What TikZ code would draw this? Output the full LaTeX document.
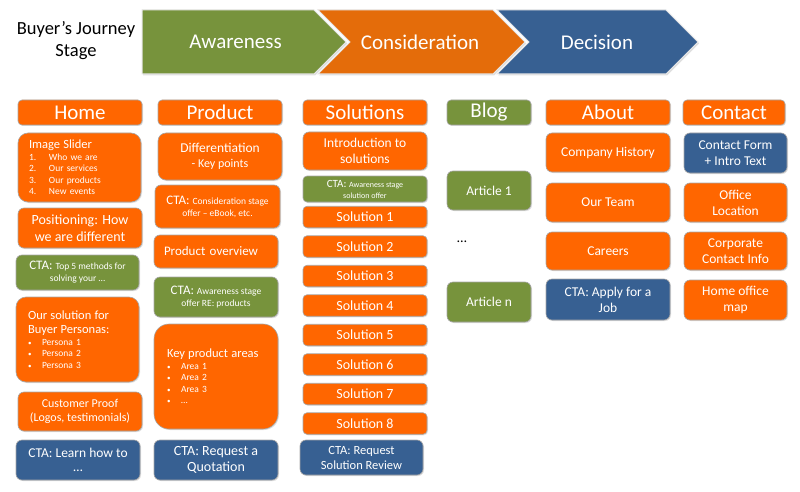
\documentclass[tikz,border=0pt]{standalone}
\usepackage{fontspec}
\setmainfont{Carlito}
\usetikzlibrary{shadows}
\definecolor{pageorange}{RGB}{255,102,0}
\definecolor{ctagreen}{RGB}{119,147,60}
\definecolor{ctablue}{RGB}{55,96,146}
\definecolor{stageorange}{RGB}{228,108,10}
\newcommand{\hdfont}{\fontsize{21}{24}\selectfont}
\newcommand{\bodyfont}{\fontsize{13.5}{16}\selectfont}
\newcommand{\ctafont}{\fontsize{13}{12}\selectfont}
\newcommand{\listhead}{\fontsize{12.5}{14}\selectfont}
\newcommand{\smallfont}{\fontsize{9.5}{11.5}\selectfont}
\newcommand{\numitem}[2]{\makebox[20pt][l]{#1}#2}
\newcommand{\dotitem}[1]{\makebox[14pt][l]{\fontsize{7}{7}\selectfont\textbullet}#1}

\begin{document}
\begin{tikzpicture}[x=1pt, y=-1pt,
    stage/.style={draw=white!80!gray, line width=1pt, line join=miter,
      drop shadow={shadow xshift=1pt, shadow yshift=-1.5pt, opacity=0.25}},
    stagetext/.style={text=white, font=\hdfont},
    page/.style={rounded corners=6pt, draw=black!35, line width=0.6pt, text=white,
      align=center, font=\bodyfont, inner sep=1pt, minimum width=124pt,
      drop shadow={shadow xshift=1pt, shadow yshift=-1pt, opacity=0.25}},
    obox/.style={page, fill=pageorange},
    gbox/.style={page, fill=ctagreen},
    bbox/.style={page, fill=ctablue},
    head/.style={minimum height=25pt, rounded corners=4pt, font=\hdfont},
    listbox/.style={align=left, minimum width=0pt, font=\smallfont}]
  \useasboundingbox (0,0) rectangle (800,492);

  % stages
  \node[align=center, font=\fontsize{18.5}{22}\selectfont] (journey) at (76,41) {Buyer’s Journey\\Stage};
  \draw[stage, fill=ctagreen] (142,10) -- (314,10) -- (346,42) -- (314,74) -- (142,74) -- cycle;
  \draw[stage, fill=stageorange] (318,10) -- (493,10) -- (525,42) -- (493,74) -- (318,74) -- (350,42) -- cycle;
  \draw[stage, fill=ctablue] (497,10) -- (666,10) -- (698,42) -- (666,74) -- (497,74) -- (529,42) -- cycle;
  \node[stagetext] (aware) at (235.5,42) {Awareness};
  \node[stagetext] (consider) at (420,42) {Consideration};
  \node[stagetext] (decide) at (597,42) {Decision};

  % page headers
  \node[obox, head] (home) at (80,112.5) {Home};
  \node[obox, head] (product) at (220,112.5) {Product};
  \node[obox, head] (solutions) at (365,112.5) {Solutions};
  \node[gbox, head, minimum width=84pt] (blog) at (489,112.5) {Blog};
  \node[obox, head] (about) at (608,112.5) {About};
  \node[obox, head, minimum width=102pt] (contact) at (734,112.5) {Contact};

  % Home
  \node[obox, listbox, rounded corners=10pt, text width=101pt, inner xsep=11pt,
        minimum height=69pt] (slider) at (79.5,167.5)
    {\listhead Image Slider\\ \smallfont \numitem{1.}{Who we are}\\
     \numitem{2.}{Our services}\\ \numitem{3.}{Our products}\\ \numitem{4.}{New events}};
  \node[obox, font=\fontsize{14}{16.5}\selectfont, minimum height=40pt] (position) at (80,228) {Positioning: How\\we are different};
  \node[gbox, font=\ctafont, minimum width=123pt, minimum height=35pt] (ctatop) at (77.5,272.5)
    {CTA: \smallfont Top 5 methods for\\\smallfont solving your …};
  \node[obox, listbox, rounded corners=10pt, text width=99pt, inner xsep=12pt,
        minimum height=85pt] (persona) at (77.5,339.5)
    {\listhead Our solution for\\\listhead Buyer Personas:\\ \smallfont \dotitem{Persona 1}\\
     \dotitem{Persona 2}\\ \dotitem{Persona 3}};
  \node[obox, font=\fontsize{12}{13.5}\selectfont, minimum height=39pt] (proof) at (80,411.5) {Customer Proof\\(Logos, testimonials)};
  \node[bbox, font=\fontsize{13.5}{14.5}\selectfont, minimum height=40pt] (ctalearn) at (78,460) {CTA: Learn how to\\…};

  % Product
  \node[obox, rounded corners=8pt, font=\fontsize{13.5}{15}\selectfont, minimum height=47pt] (diff) at (220,156.5)
    {Differentiation\\\fontsize{12}{14.5}\selectfont - Key points};
  \node[obox, font=\ctafont, minimum width=125pt, minimum height=43pt] (ctacons) at (217.5,206.5)
    {CTA: \smallfont Consideration stage\\\smallfont offer – eBook, etc.};
  \node[obox, listbox, text width=104pt, inner xsep=10pt,
        font=\fontsize{13}{15}\selectfont, minimum height=33pt] (overview) at (216,251.5) {Product overview};
  \node[gbox, font=\ctafont, minimum height=40pt] (ctaaware) at (216,297)
    {CTA: \smallfont Awareness stage\\\smallfont offer RE: products};
  \node[obox, listbox, rounded corners=15pt, text width=98pt, inner xsep=13pt,
        minimum height=105pt] (areas) at (216,376.5)
    {\listhead Key product areas\\ \smallfont \dotitem{Area 1}\\
     \dotitem{Area 2}\\ \dotitem{Area 3}\\ \dotitem{…}};
  \node[bbox, font=\fontsize{14}{16}\selectfont, minimum height=40pt] (ctaquote) at (216,460) {CTA: Request a\\Quotation};

  % Solutions
  \node[obox, minimum height=38pt] (intro) at (365,151) {Introduction to\\solutions};
  \node[gbox, rounded corners=4pt, font=\fontsize{11}{11}\selectfont, minimum height=26pt] (ctasol) at (365,189)
    {CTA: \fontsize{8}{9.5}\selectfont Awareness stage\\\fontsize{8}{9.5}\selectfont solution offer};
  \foreach \i in {1,...,8}
    \node[obox, rounded corners=4pt, font=\fontsize{14}{16}\selectfont, minimum height=21.5pt] (sol\i)
      at (365,{217+(\i-1)*29.5}) {Solution \i};
  \node[bbox, font=\fontsize{12.5}{15}\selectfont, minimum width=123pt, minimum height=35pt] (ctareview) at (361.5,457.5)
    {CTA: Request\\Solution Review};

  % Blog
  \node[gbox, minimum width=84pt, minimum height=39pt] (art1) at (489,190.5) {Article 1};
  \node[font=\fontsize{14}{16}\selectfont] (more) at (462,242) {…};
  \node[gbox, minimum width=84pt, minimum height=40pt] (artn) at (489,302) {Article n};

  % About
  \node[obox, minimum height=39pt] (history) at (608,152.5) {Company History};
  \node[obox, minimum height=39pt] (team) at (608,202.5) {Our Team};
  \node[obox, minimum height=38pt] (careers) at (608,251) {Careers};
  \node[bbox, minimum height=41pt] (ctajob) at (608,299.5) {CTA: Apply for a\\Job};

  % Contact
  \node[bbox, minimum width=103pt, minimum height=40pt] (form) at (735.5,153) {Contact Form\\+ Intro Text};
  \node[obox, minimum width=103pt, minimum height=39pt] (office) at (735.5,202.5) {Office\\Location};
  \node[obox, minimum width=103pt, minimum height=38pt] (corporate) at (735.5,251) {Corporate\\Contact Info};
  \node[obox, minimum width=103pt, minimum height=40pt] (officemap) at (735.5,300) {Home office\\map};
\end{tikzpicture}
\end{document}
